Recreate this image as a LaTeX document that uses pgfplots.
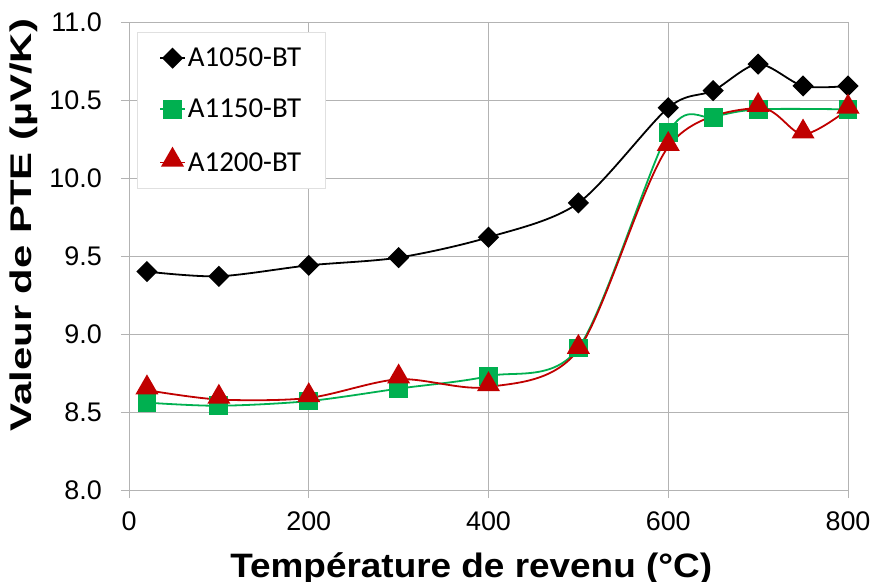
\documentclass[border=0pt]{standalone}
\usepackage{fontspec}
\setmainfont{Liberation Sans}
\newfontfamily\legfont{Carlito}
\newfontfamily\ylabfont[FakeStretch=1.4]{Liberation Sans}
\newfontfamily\xlabfont[FakeStretch=1.09]{Liberation Sans}
\usepackage{pgfplots}
\pgfplotsset{compat=1.18}
\definecolor{cgreen}{HTML}{00B050}
\definecolor{cred}{HTML}{C00000}
\definecolor{cgrid}{HTML}{B3B3B3}
\begin{document}
\begin{tikzpicture}
\begin{axis}[
  name=ax,
  scale only axis,
  width=719bp, height=468bp,
  xmin=0, xmax=800, ymin=8, ymax=11,
  xtick={0,200,...,800},
  ytick={8,8.5,...,11},
  grid=major,
  grid style={cgrid, line width=0.8bp},
  axis line style={cgrid, line width=0.8bp},
  tick style={cgrid, line width=0.8bp},
  major tick length=8bp,
  tick align=outside,
  xtick pos=bottom, ytick pos=left,
  /pgf/number format/assume math mode=true,
  ticklabel style={font=\fontsize{27}{31}\selectfont, inner sep=0pt},
  yticklabel style={/pgf/number format/.cd, fixed, fixed zerofill, precision=1},
  xticklabel style={/pgf/number format/.cd, fixed, precision=0},
  xticklabel shift=14bp,
  yticklabel shift=19bp,
  xlabel={Température de revenu (°C)},
  ylabel={Valeur de PTE (µV/K)},
  xlabel style={font=\fontsize{34}{40}\bfseries\xlabfont, at={(axis description cs:0.476,-0.186)}, anchor=base, inner sep=0pt},
  ylabel style={font=\fontsize{30}{36}\bfseries\ylabfont, at={(axis description cs:-0.147,0.566)}, anchor=center, inner sep=0pt},
  legend style={at={(axis description cs:0.011,0.979)}, anchor=north west,
    draw=black!12, fill=white, font=\fontsize{29}{34}\selectfont\legfont,
    row sep=27bp, inner xsep=22bp, inner ysep=14bp,
    /tikz/every even column/.append style={column sep=0bp}},
  legend cell align=left,
  legend image code/.code={
    \draw[mark repeat=2, mark phase=2] plot coordinates {(0bp,0bp) (12.5bp,0bp) (25bp,0bp)};},
]
\addplot[black, line width=1.8bp, smooth, mark=square*, mark size=6.6bp, mark options={rotate=45, solid}]
  coordinates {(20,9.40) (100,9.37) (200,9.44) (300,9.49) (400,9.62) (500,9.84) (600,10.45) (650,10.56) (700,10.73) (750,10.59) (800,10.59)};
\addlegendentry{A1050-BT}
\addplot[cgreen, line width=1.8bp, smooth, mark=square*, mark size=8.5bp, mark options={solid}]
  coordinates {(20,8.56) (100,8.54) (200,8.57) (300,8.65) (400,8.73) (500,8.91) (600,10.29) (650,10.39) (700,10.44) (800,10.44)};
\addlegendentry{A1150-BT}
\addplot[cred, line width=1.8bp, smooth, mark=triangle*, mark size=11.5bp, mark options={solid, yshift=2.5bp}]
  coordinates {(20,8.64) (100,8.58) (200,8.59) (300,8.71) (400,8.66) (500,8.90) (600,10.20) (700,10.45) (750,10.28) (800,10.44)};
\addlegendentry{A1200-BT}
\end{axis}
\pgfresetboundingbox
\path ([shift={(-129bp,-92bp)}]ax.south west) rectangle ([shift={(25bp,22bp)}]ax.north east);
\end{tikzpicture}
\end{document}
